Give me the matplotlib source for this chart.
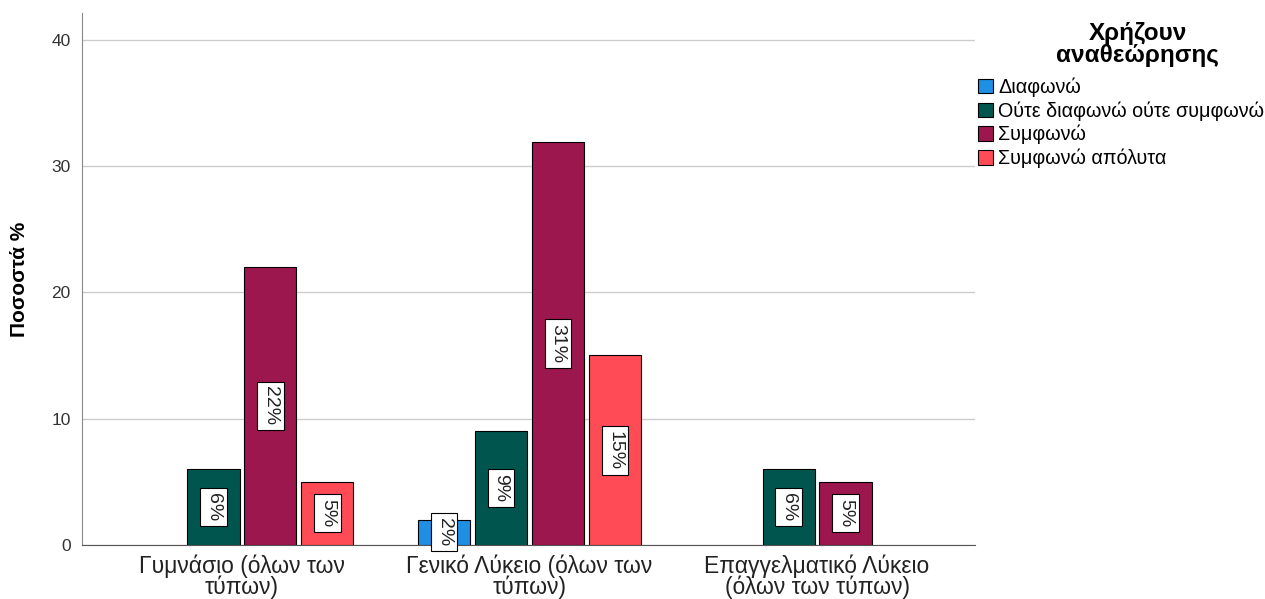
import numpy as np
import matplotlib.pyplot as plt
from matplotlib.patches import Patch

plt.rcParams['font.family'] = ['Liberation Sans', 'DejaVu Sans']

categories = ['Γυμνάσιο (όλων των\nτύπων)', 'Γενικό Λύκειο (όλων των\nτύπων)',
              'Επαγγελματικό Λύκειο\n(όλων των τύπων)']
series = ['Διαφωνώ', 'Ούτε διαφωνώ ούτε συμφωνώ', 'Συμφωνώ', 'Συμφωνώ απόλυτα']
colors = ['#1E8FE3', '#00564F', '#9C174D', '#FF4B55']

# ποσοστά ανά κατηγορία (None = δεν υπάρχει μπάρα)
diafono = [None, 2, None]
oute = [6, 9, 6]
symfono = [22, 31.9, 5]
apolyta = [5, 15, None]
values = [diafono, oute, symfono, apolyta]

fig = plt.figure(figsize=(12.65, 5.99), dpi=100)
ax = fig.add_axes([0.0648, 0.0902, 0.7060, 0.8878])

x = np.arange(len(categories))
step = 0.198
width = 0.181
for i, (name, vals, col) in enumerate(zip(series, values, colors)):
    off = (i - 1.5) * step
    for j, v in enumerate(vals):
        if v is None:
            continue
        ax.bar(x[j] + off, v, width, color=col, edgecolor='black', linewidth=0.8, zorder=3)
        ax.text(x[j] + off, v / 2, '%d%%' % int(v), rotation=-90, ha='center', va='center',
                fontsize=14, color='#222222', zorder=4,
                bbox=dict(boxstyle='square,pad=0.25', fc='white', ec='black', lw=0.8))

ax.set_xlim(-0.5565, 2.5496)
ax.set_ylim(0, 42.1)
ax.set_yticks([0, 10, 20, 30, 40])
ax.set_xticks(x)
ax.set_xticklabels(categories, fontsize=16.5, color='#222222', linespacing=0.85)
ax.tick_params(axis='y', length=0, labelsize=12.5, labelcolor='#333333', pad=8)
ax.tick_params(axis='x', length=0, pad=7)
ax.yaxis.grid(True, color='#cccccc', linewidth=1, zorder=0)
ax.set_axisbelow(True)
for s in ['top', 'right']:
    ax.spines[s].set_visible(False)
ax.spines['left'].set_color('#888888')
ax.spines['bottom'].set_color('#555555')
ax.set_ylabel('Ποσοστά %', fontsize=15, fontweight='bold', labelpad=16)

# τίτλος υπομνήματος
fig.text(0.8995, 0.925, 'Χρήζουν\nαναθεώρησης', ha='center', va='center',
         fontsize=17.5, fontweight='bold', linespacing=0.95)

handles = [Patch(facecolor=c, edgecolor='black', linewidth=0.8) for c in colors]
leg = fig.legend(handles, series, loc='upper left', bbox_to_anchor=(0.7735, 0.871),
                 frameon=False, fontsize=14.2,
                 handlelength=0.75, handleheight=0.75, handletextpad=0.25,
                 labelspacing=0.22, borderaxespad=0, borderpad=0)

fig.savefig('out.png', dpi=100)
